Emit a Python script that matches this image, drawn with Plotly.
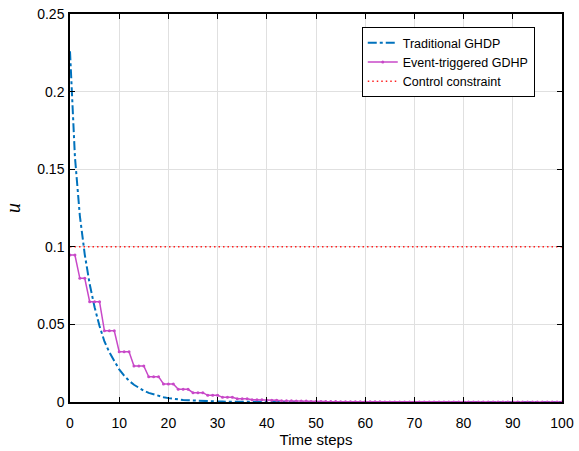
import plotly.graph_objects as go

steps = list(range(0, 101))

traditional_ghdp = [
    0.226, 0.158, 0.120, 0.095, 0.076, 0.061, 0.049, 0.039, 0.032, 0.026,
    0.021, 0.017, 0.0137, 0.0111, 0.0090, 0.0073, 0.0059, 0.0048, 0.0039, 0.0031,
    0.0025, 0.0020, 0.0016, 0.0013, 0.0011, 0.0009, 0.0007, 0.0006, 0.0005, 0.0004,
    0.0003, 0.00025, 0.0002, 0.00016, 0.00013, 0.0001, 0.00008, 0.00007, 0.00005, 0.00004,
    0.00003, 0.00003, 0.00002, 0.00002, 0.00002, 0.00001, 0.00001, 0.00001, 0.00001, 0.00001,
    0.0, 0.0, 0.0, 0.0, 0.0, 0.0, 0.0, 0.0, 0.0, 0.0,
    0.0, 0.0, 0.0, 0.0, 0.0, 0.0, 0.0, 0.0, 0.0, 0.0,
    0.0, 0.0, 0.0, 0.0, 0.0, 0.0, 0.0, 0.0, 0.0, 0.0,
    0.0, 0.0, 0.0, 0.0, 0.0, 0.0, 0.0, 0.0, 0.0, 0.0,
    0.0, 0.0, 0.0, 0.0, 0.0, 0.0, 0.0, 0.0, 0.0, 0.0,
    0.0,
]

event_triggered_gdhp = [
    0.0947, 0.0947, 0.0797, 0.0797, 0.0646, 0.0646, 0.0646, 0.0459, 0.0459, 0.0459,
    0.0324, 0.0324, 0.0324, 0.0232, 0.0232, 0.0232, 0.0163, 0.0163, 0.0163, 0.0116,
    0.0116, 0.0116, 0.0082, 0.0082, 0.0082, 0.0060, 0.0060, 0.0060, 0.0043, 0.0043,
    0.0043, 0.0030, 0.0030, 0.0030, 0.0021, 0.0021, 0.0021, 0.0015, 0.0015, 0.0015,
    0.0011, 0.0011, 0.0011, 0.0008, 0.0008, 0.0008, 0.0006, 0.0006, 0.0006, 0.0004,
    0.0004, 0.0004, 0.0003, 0.0003, 0.0003, 0.0002, 0.0002, 0.0002, 0.00015, 0.00015,
    0.00015, 0.0001, 0.0001, 0.0001, 0.00007, 0.00007, 0.00007, 0.00005, 0.00005, 0.00005,
    0.00004, 0.00004, 0.00004, 0.00003, 0.00003, 0.00003, 0.00002, 0.00002, 0.00002, 0.00001,
    0.00001, 0.00001, 0.00001, 0.00001, 0.00001, 0.0, 0.0, 0.0, 0.0, 0.0,
    0.0, 0.0, 0.0, 0.0, 0.0, 0.0, 0.0, 0.0, 0.0, 0.0,
    0.0,
]

constraint_x = [0, 100]
constraint_y = [0.1, 0.1]

x_ticks = [0, 10, 20, 30, 40, 50, 60, 70, 80, 90, 100]
y_ticks = [0, 0.05, 0.1, 0.15, 0.2, 0.25]
y_tick_labels = ["0", "0.05", "0.1", "0.15", "0.2", "0.25"]

fig = go.Figure()
fig.add_trace(go.Scatter(
    x=steps, y=traditional_ghdp, mode="lines", name="Traditional GHDP",
    line=dict(color="#0072BD", width=2, dash="dashdot"),
))
fig.add_trace(go.Scatter(
    x=steps, y=event_triggered_gdhp, mode="lines+markers", name="Event-triggered GDHP",
    line=dict(color="#C848C8", width=1.5),
    marker=dict(size=3, color="#C848C8"),
))
fig.add_trace(go.Scatter(
    x=constraint_x, y=constraint_y, mode="lines", name="Control constraint",
    line=dict(color="#FF2020", width=1.5, dash="1.5px,3px"),
))

tick_font = dict(family="Liberation Sans, Arial", size=14, color="black")
axis_common = dict(
    showline=True, linecolor="black", linewidth=1.5, mirror="ticks",
    ticks="inside", ticklen=5, tickcolor="black", tickwidth=1,
    showgrid=True, gridcolor="#e0e0e0", gridwidth=1, zeroline=False,
    tickfont=tick_font, automargin=False,
)

fig.update_layout(
    width=579, height=451,
    margin=dict(l=70, r=17, t=14, b=49),
    paper_bgcolor="white", plot_bgcolor="white",
    showlegend=True,
    legend=dict(
        x=0.593, y=0.966, xanchor="left", yanchor="top",
        bgcolor="white", bordercolor="black", borderwidth=1,
        font=dict(family="Liberation Sans, Arial", size=12.5, color="black"),
        tracegroupgap=0, itemwidth=30,
    ),
    xaxis=dict(
        range=[0, 100], tickvals=x_ticks, ticklabelstandoff=7,
        title=dict(text="Time steps", font=dict(family="Liberation Sans, Arial", size=15, color="black"), standoff=4),
        **axis_common,
    ),
    yaxis=dict(
        range=[0, 0.25], tickvals=y_ticks, ticktext=y_tick_labels, ticklabelstandoff=1,
        title=dict(text="<i>u</i>", font=dict(family="Liberation Serif, Times New Roman", size=20, color="black"), standoff=11),
        **axis_common,
    ),
)

fig.write_html("out.html")
